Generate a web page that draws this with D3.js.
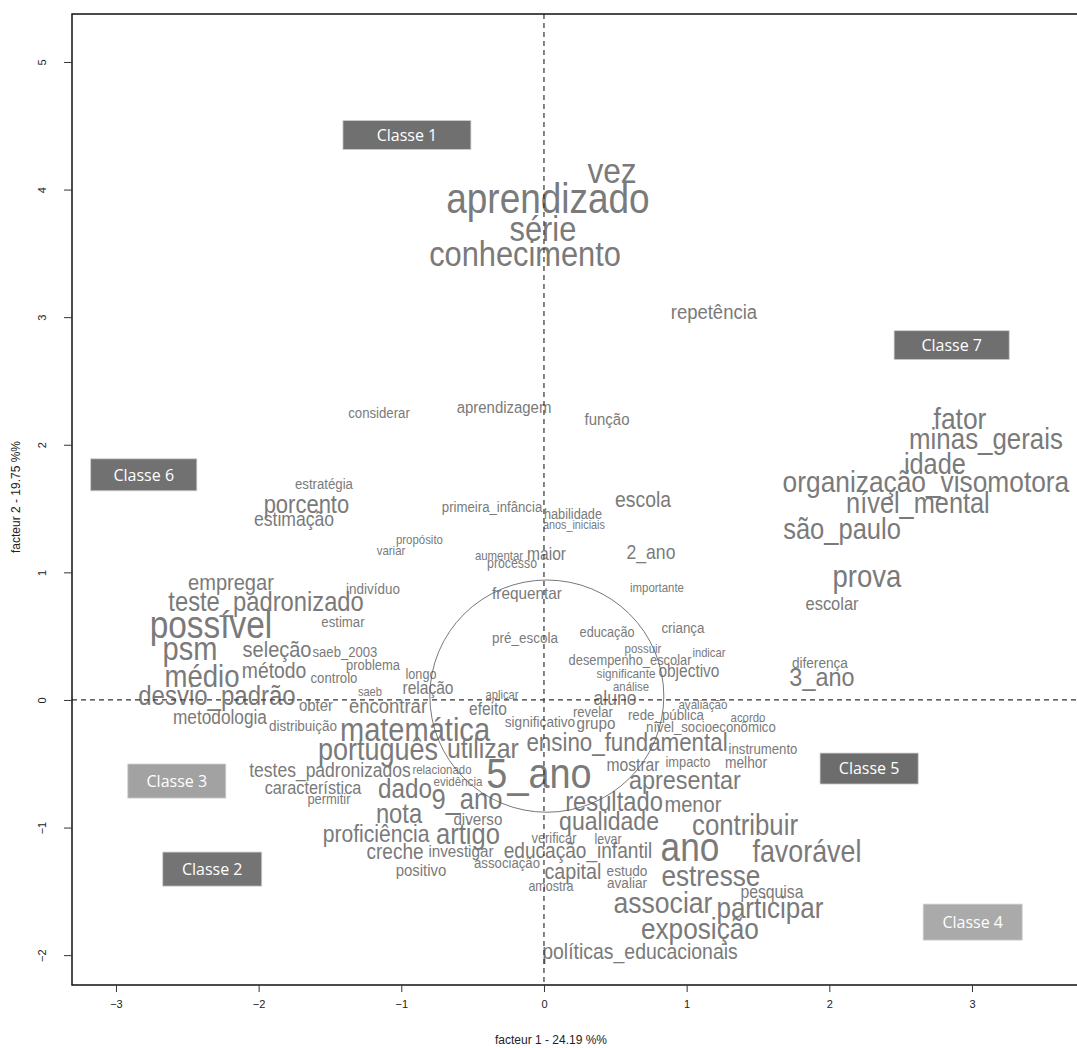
<!DOCTYPE html>
<html>
<head>
<meta charset="utf-8">
<script src="https://cdn.jsdelivr.net/npm/d3@7"></script>
<style>
  body { margin: 0; background: #fff; }
  text { font-family: "Liberation Sans", Arial, sans-serif; }
</style>
</head>
<body>
<svg id="chart" width="1077" height="1048"></svg>
<script>
// Correspondence analysis of the corpus: word coordinates on factors 1 and 2
const words = [
  "vez", "aprendizado", "série", "conhecimento", "repetência", "considerar", "aprendizagem", "função",
  "estratégia", "porcento", "estimação", "primeira_infância", "habilidade", "escola", "anos_iniciais",
  "propósito", "variar", "aumentar", "maior", "processo", "2_ano", "importante", "indivíduo", "frequentar",
  "empregar", "teste_padronizado", "estimar", "possível", "psm", "seleção", "saeb_2003", "problema",
  "médio", "método", "controlo", "longo", "relação", "desvio_padrão", "saeb", "obter", "encontrar",
  "metodologia", "distribuição", "aplicar", "efeito", "significativo", "pré_escola", "educação",
  "criança", "possuir", "indicar", "desempenho_escolar", "significante", "objectivo", "análise", "aluno",
  "avaliação", "revelar", "rede_pública", "acordo", "grupo", "nível_socioeconômico", "ensino_fundamental",
  "instrumento", "mostrar", "impacto", "melhor", "apresentar", "5_ano", "português", "matemática",
  "utilizar", "testes_padronizados", "relacionado", "evidência", "característica", "permitir", "dado",
  "9_ano", "nota", "diverso", "proficiência", "artigo", "creche", "investigar", "positivo", "associação",
  "verificar", "educação_infantil", "capital", "amostra", "levar", "estudo", "avaliar", "qualidade",
  "resultado", "menor", "contribuir", "ano", "favorável", "estresse", "pesquisa", "associar",
  "participar", "exposição", "políticas_educacionais", "fator", "minas_gerais", "idade",
  "organização_visomotora", "nível_mental", "são_paulo", "prova", "escolar", "diferença", "3_ano"
];

// factor 1 coordinates
const dim1 = [
  0.477, 0.028, -0.007, -0.133, 1.191, -1.156, -0.280, 0.442,
  -1.542, -1.665, -1.752, -0.364, 0.203, 0.694, 0.210,
  -0.873, -1.072, -0.315, 0.018, -0.224, 0.750, 0.792, -1.198, -0.119,
  -2.194, -1.948, -1.409, -2.334, -2.481, -1.871, -1.395, -1.198,
  -2.397, -1.892, -1.472, -0.862, -0.813, -2.292, -1.220, -1.598, -1.093,
  -2.271, -1.689, -0.294, -0.392, -0.028, -0.133, 0.442,
  0.974, 0.694, 1.156, 0.603, 0.575, 1.016, 0.610, 0.498,
  1.114, 0.343, 0.855, 1.430, 0.364, 1.170, 0.582,
  1.535, 0.624, 1.009, 1.416, 0.988, -0.035, -1.163, -0.904,
  -0.428, -1.500, -0.715, -0.603, -1.619, -1.507, -0.974,
  -0.540, -1.016, -0.463, -1.177, -0.533, -1.044, -0.582, -0.862, -0.259,
  0.070, 0.238, 0.203, 0.049, 0.449, 0.582, 0.582, 0.456,
  0.491, 1.044, 1.409, 1.023, 1.843, 1.170, 1.598, 0.834,
  1.584, 1.093, 0.673, 2.916, 3.098, 2.740,
  2.677, 2.621, 2.089, 2.264, 2.019, 1.934, 1.948
];

// factor 2 coordinates
const dim2 = [
  4.138, 3.918, 3.683, 3.480, 3.033, 2.249, 2.288, 2.194,
  1.685, 1.528, 1.411, 1.505, 1.450, 1.567, 1.371,
  1.254, 1.168, 1.129, 1.136, 1.066, 1.152, 0.878, 0.870, 0.831,
  0.917, 0.760, 0.611, 0.572, 0.392, 0.392, 0.368, 0.266,
  0.172, 0.227, 0.165, 0.196, 0.086, 0.024, 0.063, -0.047, -0.055,
  -0.141, -0.204, 0.039, -0.078, -0.172, 0.486, 0.525,
  0.564, 0.400, 0.368, 0.306, 0.204, 0.219, 0.102, 0.008,
  -0.039, -0.102, -0.118, -0.141, -0.188, -0.219, -0.337,
  -0.392, -0.517, -0.494, -0.494, -0.635, -0.588, -0.400, -0.243,
  -0.392, -0.556, -0.549, -0.643, -0.690, -0.784, -0.705,
  -0.784, -0.901, -0.940, -1.058, -1.058, -1.199, -1.191, -1.340, -1.285,
  -1.089, -1.191, -1.348, -1.466, -1.097, -1.340, -1.434, -0.956,
  -0.807, -0.823, -0.987, -1.168, -1.199, -1.387, -1.513, -1.599,
  -1.638, -1.803, -1.975, 2.194, 2.038, 1.842,
  1.701, 1.536, 1.332, 0.956, 0.752, 0.290, 0.172
];

// association strength of each word (drives label size)
const chi2 = [
  36, 42, 35, 35, 21, 15, 17, 17,
  15, 25, 20, 15, 14.5, 22, 12.3,
  13, 13, 13, 17.7, 14, 20, 13, 15.3, 17.4,
  22.8, 27, 15, 38, 33, 22.7, 14.9, 14.7,
  31.3, 22, 15, 14.4, 17.7, 27.3, 12.6, 17, 21,
  19.6, 15.3, 12.7, 17.6, 15.5, 15.3, 14.4,
  15.2, 13, 12.7, 14.6, 13.4, 17.6, 12.9, 20,
  13.2, 14.9, 15.1, 13, 17.3, 15, 25.4,
  15, 17.8, 14.6, 15.6, 26.6, 43, 30.7, 33,
  28.3, 19.9, 13, 13.2, 18.5, 14.7, 27.6,
  29, 27, 17.3, 24, 29, 21.6, 17.3, 17, 15,
  14.6, 21.7, 22.4, 14.2, 14.2, 15.5, 15.4, 26.2,
  27, 22.8, 29.3, 40, 30.5, 29.8, 17.9, 30.2,
  29.6, 29.8, 22.1, 30, 29.4, 28.8,
  29.9, 28.8, 29, 31.3, 18.7, 15.5, 26.6
];

// class labels and the regions they occupy on the factor plane
const classNames = ["Classe 1", "Classe 2", "Classe 3", "Classe 4", "Classe 5", "Classe 6", "Classe 7"];
const classXmin = [-1.409, -2.672, -2.917, 2.658, 1.935, -3.177, 2.454];
const classXmax = [-0.512, -1.978, -2.230, 3.352, 2.623, -2.433, 3.261];
const classYmin = [4.314, -1.459, -0.769, -1.882, -0.659, 1.639, 2.667];
const classYmax = [4.541, -1.192, -0.502, -1.600, -0.416, 1.890, 2.894];

// region of the central cluster
const centreX = [0.02];
const centreY = [0.03];
const centreRadiusX = [0.82];
const centreRadiusY = [0.91];

const xTicks = [-3, -2, -1, 0, 1, 2, 3];
const yTicks = [-2, -1, 0, 1, 2, 3, 4, 5];
const xTitle = "facteur  1  - 24.19 %%";
const yTitle = "facteur  2  - 19.75 %%";

const classPalette = ["#707070", "#747474", "#a2a2a2", "#aaaaaa", "#6d6d6d", "#717171", "#6f6f6f"];
const wordColour = "#7a7a7a";

const svg = d3.select("#chart");
const plotLeft = 72, plotRight = 1079, plotTop = 14, plotBottom = 985;

const x = d3.scaleLinear().domain([-3.308, 3.75]).range([plotLeft, plotRight]);
const y = d3.scaleLinear().domain([-2.234, 5.376]).range([plotBottom, plotTop]);
const fontSize = d3.scaleLinear().domain([0, d3.max(chi2)]).range([0, 43]);

// word labels, slightly condensed
svg.append("g").selectAll("text")
  .data(words.map((w, i) => ({ w, a: dim1[i], b: dim2[i], c: chi2[i] })))
  .join("text")
  .attr("transform", d => `translate(${x(d.a)},${y(d.b)}) scale(0.88,1)`)
  .attr("text-anchor", "middle")
  .attr("dy", "0.3em")
  .attr("font-size", d => fontSize(d.c))
  .attr("fill", wordColour)
  .text(d => d.w);

// central ellipse
svg.append("ellipse")
  .attr("cx", x(centreX[0]))
  .attr("cy", y(centreY[0]))
  .attr("rx", x(centreRadiusX[0]) - x(0))
  .attr("ry", y(0) - y(centreRadiusY[0]))
  .attr("fill", "none")
  .attr("stroke", "#555")
  .attr("stroke-width", 0.8);

// origin lines
svg.append("line")
  .attr("x1", x(0)).attr("x2", x(0)).attr("y1", plotTop).attr("y2", plotBottom)
  .attr("stroke", "#333").attr("stroke-width", 1.2).attr("stroke-dasharray", "5,4");
svg.append("line")
  .attr("x1", plotLeft).attr("x2", plotRight).attr("y1", y(0)).attr("y2", y(0))
  .attr("stroke", "#333").attr("stroke-width", 1.2).attr("stroke-dasharray", "5,4");

// class boxes
const cls = svg.append("g").selectAll("g")
  .data(classNames.map((n, i) => ({ n, x0: classXmin[i], x1: classXmax[i], y0: classYmin[i], y1: classYmax[i], c: classPalette[i] })))
  .join("g");
cls.append("rect")
  .attr("x", d => x(d.x0)).attr("width", d => x(d.x1) - x(d.x0))
  .attr("y", d => y(d.y1)).attr("height", d => y(d.y0) - y(d.y1))
  .attr("fill", d => d.c)
  .attr("stroke", "#d0d0d0").attr("stroke-width", 0.8);
cls.append("text")
  .attr("x", d => (x(d.x0) + x(d.x1)) / 2)
  .attr("y", d => (y(d.y0) + y(d.y1)) / 2)
  .attr("dy", "0.36em")
  .attr("text-anchor", "middle")
  .attr("fill", "#fff")
  .attr("font-size", 16)
  .style("font-family", "'Open Sans', sans-serif")
  .text(d => d.n);

// frame
svg.append("rect")
  .attr("x", plotLeft).attr("y", plotTop).attr("width", plotRight - plotLeft).attr("height", plotBottom - plotTop)
  .attr("fill", "none").attr("stroke", "#111").attr("stroke-width", 1.5);

// axes
const gx = svg.append("g").attr("transform", `translate(0,${plotBottom})`)
  .call(d3.axisBottom(x).tickValues(xTicks).tickSize(7).tickPadding(8).tickFormat(d3.format("d")));
gx.select(".domain").remove();
gx.selectAll("line").attr("stroke", "#333");
gx.selectAll("text").attr("font-size", 11).attr("fill", "#222")
  .style("font-family", "'Liberation Sans', Arial, sans-serif");

const gy = svg.append("g").attr("transform", `translate(${plotLeft},0)`)
  .call(d3.axisLeft(y).tickValues(yTicks).tickSize(8).tickFormat(d3.format("d")));
gy.select(".domain").remove();
gy.selectAll("line").attr("stroke", "#333");
gy.selectAll("text")
  .attr("x", null).attr("dy", "0.35em")
  .attr("text-anchor", "middle")
  .attr("transform", "translate(-30,0) rotate(-90)")
  .attr("font-size", 11).attr("fill", "#222")
  .style("font-family", "'Liberation Sans', Arial, sans-serif");

svg.append("text")
  .attr("x", 551).attr("y", 1044)
  .attr("text-anchor", "middle")
  .attr("font-size", 12).attr("fill", "#222")
  .text(xTitle);
svg.append("text")
  .attr("transform", "translate(20,497) rotate(-90)")
  .attr("text-anchor", "middle")
  .attr("font-size", 12).attr("fill", "#222")
  .text(yTitle);
</script>
</body>
</html>
